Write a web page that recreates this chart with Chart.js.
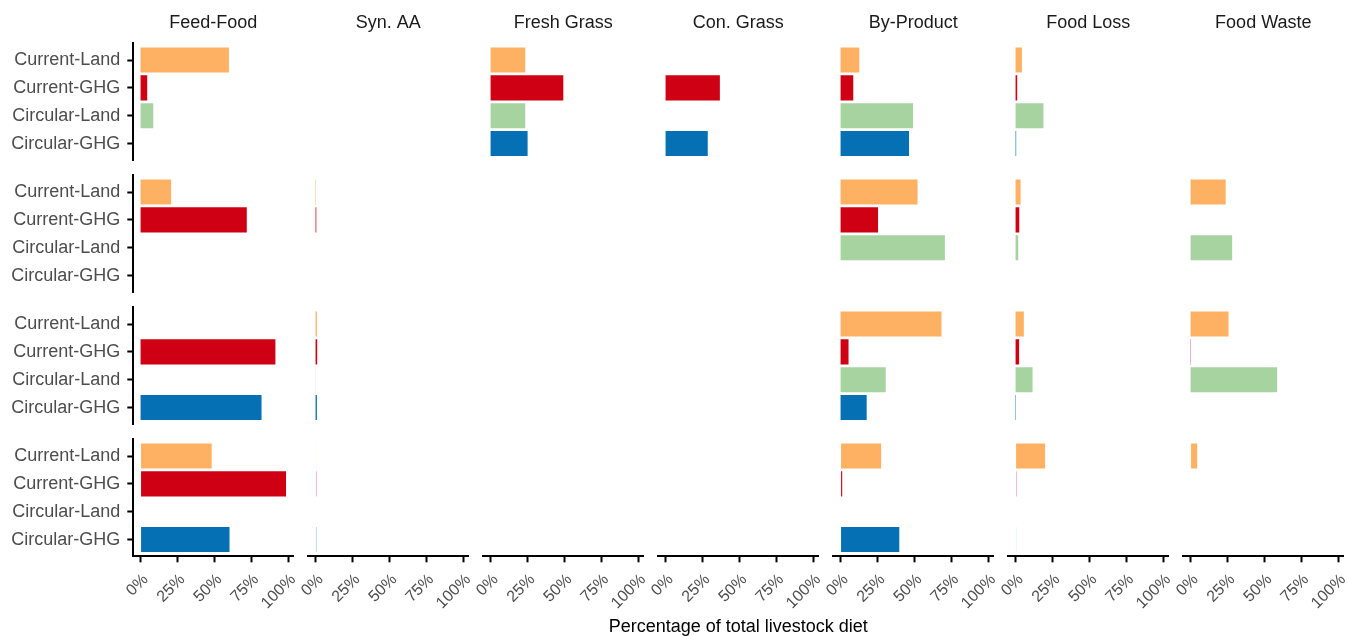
<!DOCTYPE html>
<html>
<head>
<meta charset="utf-8">
<script src="https://cdn.jsdelivr.net/npm/chart.js@4.4.1/dist/chart.umd.min.js"></script>
<style>
  html, body { margin: 0; padding: 0; background: #ffffff; width: 1348px; height: 636px; overflow: hidden; }
  #facets { position: relative; width: 1348px; height: 636px; }
  #facets .panel { position: absolute; }
</style>
</head>
<body>
<div id="facets"></div>
<script>
// Diet scenarios shown on every facet row (top to bottom)
const categories = ['Current-Land', 'Current-GHG', 'Circular-Land', 'Circular-GHG'];
// Feed sources, one facet column each
const sources = ['Feed-Food', 'Syn. AA', 'Fresh Grass', 'Con. Grass', 'By-Product', 'Food Loss', 'Food Waste'];
const xTickValues = [0, 25, 50, 75, 100];
const xAxisTitle = 'Percentage of total livestock diet';

// Share of total diet (%) per source; each inner list follows the category order
const group1 = [
  [59.9, 4.5, 8.6, 0],      // Feed-Food
  [0, 0, 0, 0],             // Syn. AA
  [23.5, 49.3, 23.5, 25.1], // Fresh Grass
  [0, 36.8, 0, 28.6],       // Con. Grass
  [12.7, 8.6, 49.1, 46.4],  // By-Product
  [4.3, 1.1, 18.9, 0.4],    // Food Loss
  [0, 0, 0, 0]              // Food Waste
];
const group2 = [
  [20.7, 72.0, 0, 0],
  [0.3, 0.5, 0, 0],
  [0, 0, 0, 0],
  [0, 0, 0, 0],
  [52.2, 25.4, 70.7, 0],
  [3.4, 2.5, 1.8, 0],
  [23.8, 0, 28.2, 0]
];
const group3 = [
  [0, 91.4, 0, 82.0],
  [0.9, 1.1, 0.1, 0.9],
  [0, 0, 0, 0],
  [0, 0, 0, 0],
  [68.4, 5.4, 30.6, 17.7],
  [5.6, 2.4, 11.5, 0.3],
  [25.7, 0.2, 58.7, 0]
];
const group4 = [
  [48.2, 98.6, 0, 60.3],
  [0.3, 0.5, 0, 0.5],
  [0, 0, 0, 0],
  [0, 0, 0, 0],
  [27.5, 1.1, 0, 39.8],
  [20.0, 0.5, 0, 0.3],
  [4.5, 0, 0, 0]
];
const groups = [group1, group2, group3, group4];

// Colour per scenario
const scenarioColors = ['#FEB162', '#D00014', '#A6D3A0', '#0570B4'];

// Facet grid geometry (plot area of each panel, in page pixels)
const GRID = { left: 133.3, colStep: 175, width: 160, top: 43.3, rowStep: 132, height: 117 };
const SIDE = 80;          // spare room beside each panel for overhanging text
const PAGE_BOTTOM = 652;  // bottom edge of the panels in the last facet row
const CAPTION_Y = 627;    // vertical centre of the shared x-axis caption
const FONT = '"Liberation Sans", Arial, Helvetica, sans-serif';

// Shared x range with a 5% expansion on both sides of the data
const maxShare = Math.max(...groups.flat(2));
const xMin = -0.05 * maxShare;
const xMax = 1.05 * maxShare;

// Caption spanning several facets, drawn centred under the panel that carries it
const axisCaption = {
  id: 'axisCaption',
  afterDraw(chart, args, opts) {
    if (!opts.text) return;
    const { ctx, chartArea } = chart;
    ctx.save();
    ctx.font = '18px ' + FONT;
    ctx.fillStyle = opts.color;
    ctx.textAlign = 'center';
    ctx.textBaseline = 'middle';
    ctx.fillText(opts.text, (chartArea.left + chartArea.right) / 2, opts.y);
    ctx.restore();
  }
};

const host = document.getElementById('facets');

groups.forEach((group, r) => {
  group.forEach((values, c) => {
    const L = GRID.left + GRID.colStep * c;
    const R = L + GRID.width;
    const T = GRID.top + GRID.rowStep * r;
    const B = T + GRID.height;
    const firstCol = c === 0;
    const topRow = r === 0;
    const bottomRow = r === groups.length - 1;

    const cLeft = firstCol ? 0 : Math.floor(L - SIDE);
    const cRight = Math.ceil(R + SIDE);
    const cTop = topRow ? 0 : Math.floor(T - 14);
    const cBottom = bottomRow ? PAGE_BOTTOM : Math.ceil(B + 14);

    const box = document.createElement('div');
    box.className = 'panel';
    box.style.left = cLeft + 'px';
    box.style.top = cTop + 'px';
    box.style.width = (cRight - cLeft) + 'px';
    box.style.height = (cBottom - cTop) + 'px';
    const canvas = document.createElement('canvas');
    box.appendChild(canvas);
    host.appendChild(box);

    const yAxisWidth = firstCol ? L - cLeft : 0;
    const xAxisHeight = bottomRow ? cBottom - B : 0;

    new Chart(canvas, {
      type: 'bar',
      data: {
        datasets: [{
          data: values.map((v, i) => ({ x: v, y: i + 1 })),
          backgroundColor: scenarioColors,
          borderWidth: 0,
          categoryPercentage: 1,
          barPercentage: 0.9
        }]
      },
      plugins: [axisCaption],
      options: {
        indexAxis: 'y',
        responsive: true,
        maintainAspectRatio: false,
        animation: false,
        events: [],
        layout: {
          padding: {
            left: firstCol ? 0 : L - cLeft,
            right: cRight - R,
            top: topRow ? 0 : T - cTop,
            bottom: bottomRow ? 0 : cBottom - B
          }
        },
        plugins: {
          legend: { display: false },
          tooltip: { enabled: false },
          title: {
            display: topRow,
            fullSize: false,
            text: sources[c],
            color: '#1A1A1A',
            font: { family: FONT, size: 18, weight: 'normal', lineHeight: 1.2 },
            padding: { top: 12.7, bottom: T - 12.7 - 21.6 }
          },
          axisCaption: {
            text: bottomRow && c === 3 ? xAxisTitle : '',
            color: '#000000',
            y: CAPTION_Y - cTop
          }
        },
        scales: {
          x: {
            type: 'linear',
            min: xMin,
            max: xMax,
            offset: false,
            display: bottomRow,
            afterBuildTicks: (s) => { s.ticks = xTickValues.map(v => ({ value: v })); },
            afterFit: (s) => { s.height = xAxisHeight; s.paddingLeft = 0; s.paddingRight = 0; },
            grid: { offset: false, drawOnChartArea: false, drawTicks: true, tickLength: 6, tickWidth: 2, tickColor: '#000000' },
            border: { display: true, color: '#000000', width: 2 },
            ticks: {
              autoSkip: false,
              minRotation: 45,
              maxRotation: 45,
              padding: 8,
              labelOffset: 5,
              color: '#4D4D4D',
              font: { family: FONT, size: 16 },
              callback: (v) => v + '%'
            }
          },
          y: {
            type: 'linear',
            min: 0.4,
            max: categories.length + 0.6,
            reverse: true,
            offset: false,
            display: firstCol,
            afterBuildTicks: (s) => { s.ticks = categories.map((_, i) => ({ value: i + 1 })); },
            afterFit: (s) => { s.width = yAxisWidth; s.paddingTop = 0; s.paddingBottom = 0; },
            grid: { offset: false, drawOnChartArea: false, drawTicks: true, tickLength: 6, tickWidth: 2, tickColor: '#000000' },
            border: { display: true, color: '#000000', width: 2 },
            ticks: {
              autoSkip: false,
              padding: 7,
              color: '#4D4D4D',
              font: { family: FONT, size: 18 },
              callback: (v) => categories[v - 1]
            }
          }
        }
      }
    });
  });
});
</script>
</body>
</html>
